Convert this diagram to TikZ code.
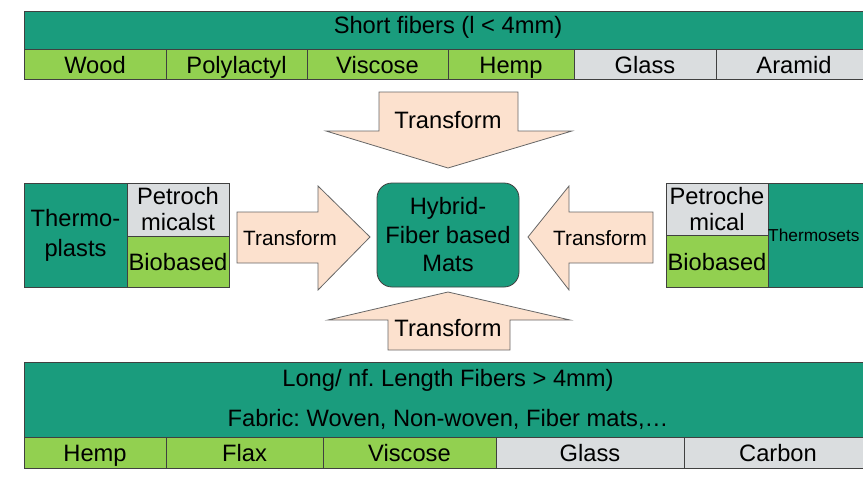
\documentclass[tikz,border=0pt]{standalone}
\usepackage{fontspec}
\setmainfont{Liberation Sans}
\usetikzlibrary{positioning}
\frenchspacing
\definecolor{matteal}{RGB}{26,156,125}
\definecolor{matgreen}{RGB}{146,208,80}
\definecolor{matgrey}{RGB}{218,221,223}
\definecolor{matpeach}{RGB}{252,225,206}
\tikzstyle{cell} = [rectangle, draw=black!75, line width=0.8pt, inner sep=0pt, outer sep=0pt, text centered, font=\fontsize{23.7}{26}\selectfont]
\tikzstyle{head} = [cell, fill=matteal]
\tikzstyle{bio} = [cell, fill=matgreen]
\tikzstyle{petro} = [cell, fill=matgrey]
\tikzstyle{line} = [text height=18pt, text depth=0pt]
\tikzstyle{trafo} = [draw=black!60, fill=matpeach, line width=0.8pt]
\tikzstyle{trafotext} = [inner sep=0pt, font=\fontsize{23.7}{26}\selectfont]

\begin{document}
\begin{tikzpicture}[x=1pt, y=-1pt]
        \useasboundingbox (0,0) rectangle (863,479);
        \node (short) [head, minimum width=848pt, minimum height=38pt, text height=17pt, text depth=9pt] at (448,30) {Short fibers (l < 4mm)};
        \node (wood) [bio, line, anchor=north west, minimum width=142pt, minimum height=30pt] at (short.south west) {Wood};
        \node (pla) [bio, line, right=0pt of wood, minimum width=141pt, minimum height=30pt] {Polylactyl};
        \node (viscs) [bio, line, right=0pt of pla, minimum width=141pt, minimum height=30pt] {Viscose};
        \node (hemps) [bio, line, right=0pt of viscs, minimum width=126pt, minimum height=30pt] {Hemp};
        \node (glasss) [petro, line, right=0pt of hemps, minimum width=142pt, minimum height=30pt] {Glass};
        \node (aramid) [petro, line, right=0pt of glasss, minimum width=156pt, minimum height=30pt] {Aramid};

        \node (thermo) [head, align=center, minimum width=103pt, minimum height=104pt, font=\fontsize{23.7}{30}\selectfont] at (75.5,235) {Thermo-\\plasts};
        \node (petrol) [petro, anchor=north west, align=center, minimum width=102pt, minimum height=53pt] at (thermo.north east) {Petroch\\micalst};
        \node (biol) [bio, line, anchor=north west, minimum width=102pt, minimum height=51pt] at (petrol.south west) {Biobased};

        \node (hybrid) [head, rounded corners=15pt, align=center, minimum width=142pt, minimum height=104pt, font=\fontsize{23.7}{28.5}\selectfont] at (448,235) {Hybrid-\\Fiber based\\Mats};

        \node (petror) [petro, align=center, minimum width=102pt, minimum height=52pt] at (717,209) {Petroche\\mical};
        \node (bior) [bio, line, anchor=north west, minimum width=102pt, minimum height=52pt] at (petror.south west) {Biobased};
        \node (thermoset) [head, anchor=north west, minimum width=104pt, minimum height=104pt] at (petror.north east) {};
        \node (thermotext) [anchor=west, inner sep=0pt, font=\fontsize{17.3}{20}\selectfont] at (thermoset.west) {Thermosets};

        \node (long) [head, align=center, minimum width=848pt, minimum height=75pt, font=\fontsize{23.7}{40}\selectfont] at (448,399.5) {Long/ nf. Length Fibers > 4mm)\\Fabric: Woven, Non-woven, Fiber mats,\dots};
        \node (hempl) [bio, line, anchor=north west, minimum width=142pt, minimum height=31pt] at (long.south west) {Hemp};
        \node (flax) [bio, line, right=0pt of hempl, minimum width=157pt, minimum height=31pt] {Flax};
        \node (viscl) [bio, line, right=0pt of flax, minimum width=173pt, minimum height=31pt] {Viscose};
        \node (glassl) [petro, line, right=0pt of viscl, minimum width=188pt, minimum height=31pt] {Glass};
        \node (carbon) [petro, line, right=0pt of glassl, minimum width=188pt, minimum height=31pt] {Carbon};

        \draw [trafo] (379,92) -- (518,92) -- (518,131) -- (572,131) -- (448,168) -- (326,131) -- (379,131) -- cycle;
        \node (ttop) [trafotext] at (448,120) {Transform};
        \draw [trafo] (388,350) -- (510,350) -- (510,320) -- (570,320) -- (448,292) -- (328,320) -- (388,320) -- cycle;
        \node (tbottom) [trafotext] at (448,328) {Transform};
        \draw [trafo] (237,212) -- (318,212) -- (318,186) -- (370,237) -- (318,290) -- (318,263) -- (237,263) -- cycle;
        \node (tleft) [trafotext, font=\fontsize{20.7}{24}\selectfont] at (290,238) {Transform};
        \draw [trafo] (653,212) -- (569,212) -- (569,186) -- (528,237) -- (569,290) -- (569,263) -- (653,263) -- cycle;
        \node (tright) [trafotext, font=\fontsize{20.7}{24}\selectfont] at (600,238) {Transform};
\end{tikzpicture}
\end{document}
